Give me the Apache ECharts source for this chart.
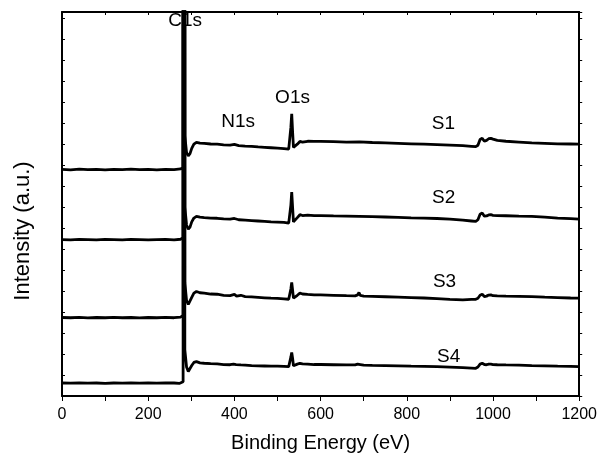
<!DOCTYPE html>
<html>
<head>
<meta charset="utf-8">
<script src="https://cdn.jsdelivr.net/npm/echarts@6/dist/echarts.min.js"></script>
<style>
  html, body { margin: 0; padding: 0; background: #fff; }
  #chart { width: 600px; height: 461px; }
</style>
</head>
<body>
<div id="chart"></div>
<script>
// XPS survey spectra of samples S1-S4, stacked with a vertical offset.
// Each point is [binding energy (eV), intensity (a.u., offset included)].
// The C1s maxima lie far above the visible range and are clipped by the frame.
const sampleNames = ['S1', 'S2', 'S3', 'S4'];

const s1 = [[0,10.80],[20,10.78],[40,10.81],[60,10.79],[80,10.80],[100,10.78],[120,10.80],[140,10.79],[160,10.81],[180,10.79],[200,10.80],[220,10.78],[240,10.80],[260,10.79],[275,10.82],[281,10.88],
  [282,200],[283.8,200],[285,12.4],[289,11.6],[293,11.45],[297,11.55],[301,11.8],[306,12.0],[312,12.09],[320,12.05],[330,12.04],[345,12.01],[360,12.00],[375,11.97],[390,11.96],[400,11.99],[410,11.93],[425,11.91],[440,11.90],[455,11.87],[470,11.85],[485,11.83],[500,11.81],[515,11.79],[526,11.77],[529,11.82],[531,12.8],[533,13.45],[535,12.6],[537,11.85],[540,11.82],[546,12.0],[552,12.13],[558,12.10],[570,12.14],[585,12.13],[600,12.13],[630,12.12],[660,12.10],[690,12.11],[720,12.08],[750,12.06],[780,12.04],[810,12.02],[840,12.00],[870,11.98],[900,11.96],[930,11.93],[950,11.90],[960,11.88],[965,11.95],[970,12.22],[975,12.28],[980,12.14],[985,12.18],[990,12.26],[995,12.28],[1000,12.24],[1010,12.18],[1030,12.14],[1060,12.10],[1090,12.06],[1120,12.04],[1150,12.02],[1180,12.01],[1200,12.00]];

const s2 = [[0,7.45],[20,7.44],[40,7.46],[60,7.45],[80,7.44],[100,7.46],[120,7.45],[140,7.44],[160,7.46],[180,7.45],[200,7.44],[220,7.45],[240,7.46],[260,7.44],[275,7.47],[281,7.54],
  [282,200],[283.8,200],[285,9.0],[289,8.15],[293,7.95],[297,8.05],[301,8.3],[306,8.48],[312,8.56],[320,8.52],[330,8.50],[345,8.48],[360,8.47],[375,8.44],[390,8.43],[400,8.46],[410,8.40],[425,8.38],[440,8.36],[455,8.34],[470,8.32],[485,8.30],[500,8.29],[515,8.27],[526,8.24],[529,8.30],[531,9.1],[533,9.72],[535,9.0],[537,8.30],[540,8.28],[546,8.50],[552,8.64],[558,8.60],[570,8.62],[585,8.60],[600,8.60],[630,8.58],[660,8.57],[690,8.56],[720,8.55],[750,8.53],[780,8.51],[810,8.49],[840,8.48],[870,8.46],[900,8.43],[930,8.38],[950,8.34],[960,8.32],[965,8.40],[970,8.66],[975,8.72],[980,8.57],[985,8.58],[990,8.63],[995,8.64],[1000,8.61],[1010,8.60],[1030,8.59],[1060,8.57],[1090,8.56],[1120,8.52],[1150,8.48],[1180,8.45],[1200,8.43]];

const s3 = [[0,3.74],[20,3.73],[40,3.75],[60,3.72],[80,3.74],[100,3.73],[120,3.75],[140,3.73],[160,3.74],[180,3.72],[200,3.74],[220,3.73],[240,3.75],[260,3.73],[275,3.76],[281,3.84],
  [282,200],[283.8,200],[285,5.4],[289,4.55],[293,4.36],[297,4.45],[301,4.7],[306,4.9],[312,4.98],[320,4.92],[330,4.90],[345,4.86],[360,4.85],[375,4.80],[390,4.78],[400,4.84],[405,4.76],[415,4.80],[425,4.74],[440,4.72],[455,4.70],[470,4.68],[485,4.66],[500,4.65],[515,4.63],[526,4.61],[529,4.66],[531,5.1],[533,5.41],[535,5.05],[537,4.66],[540,4.65],[546,4.80],[552,4.90],[558,4.86],[570,4.84],[585,4.82],[600,4.82],[630,4.80],[660,4.78],[680,4.77],[686,4.82],[689,4.93],[692,4.80],[700,4.76],[720,4.75],[750,4.73],[780,4.71],[810,4.69],[840,4.67],[870,4.64],[900,4.60],[930,4.58],[950,4.60],[960,4.61],[965,4.66],[970,4.80],[975,4.85],[980,4.74],[985,4.76],[990,4.81],[995,4.82],[1000,4.78],[1010,4.77],[1030,4.76],[1060,4.75],[1090,4.74],[1120,4.71],[1150,4.69],[1180,4.67],[1200,4.66]];

const s4 = [[0,0.62],[20,0.61],[40,0.63],[60,0.61],[80,0.62],[100,0.60],[120,0.62],[140,0.61],[160,0.63],[180,0.61],[200,0.62],[220,0.61],[240,0.63],[260,0.62],[272,0.60],[276,0.64],[281,0.68],
  [282,200],[283.8,200],[285,2.2],[289,1.38],[293,1.17],[297,1.25],[301,1.45],[306,1.6],[312,1.64],[320,1.58],[330,1.56],[345,1.54],[360,1.53],[375,1.50],[390,1.49],[398,1.52],[401,1.60],[404,1.50],[415,1.48],[425,1.47],[440,1.45],[455,1.44],[470,1.43],[485,1.42],[500,1.42],[515,1.41],[526,1.40],[529,1.44],[531,1.85],[533,2.07],[535,1.80],[537,1.44],[540,1.43],[546,1.52],[552,1.56],[558,1.53],[570,1.52],[585,1.50],[600,1.50],[630,1.49],[660,1.48],[680,1.48],[686,1.52],[689,1.59],[692,1.50],[700,1.47],[720,1.46],[750,1.45],[780,1.44],[810,1.42],[840,1.41],[870,1.40],[900,1.38],[930,1.35],[950,1.33],[960,1.32],[965,1.38],[970,1.52],[975,1.56],[980,1.50],[985,1.49],[990,1.52],[995,1.52],[1000,1.50],[1010,1.49],[1030,1.48],[1060,1.47],[1090,1.45],[1120,1.44],[1150,1.42],[1180,1.41],[1200,1.40]];

// Peak / sample annotations and the [eV, intensity] point each is centred on
const annotationTexts = ['C1s', 'N1s', 'O1s', 'S1', 'S2', 'S3', 'S4'];
const annotationAnchors = [[285.5,17.86],[408.8,13.05],[534.9,14.2],[884.8,12.99],[885.5,9.47],[887.5,5.43],[897,1.88]];

const FONT = '"Liberation Sans", Arial, Helvetica, sans-serif';
const INK = '#000';

const spectra = [s1, s2, s3, s4];
const lineSeries = spectra.map((d, i) => ({
  name: sampleNames[i],
  type: 'line',
  data: d,
  showSymbol: false,
  symbol: 'none',
  clip: true,
  z: 3,
  lineStyle: { color: INK, width: 2.8 },
  emphasis: { disabled: true }
}));

const labelSeries = {
  type: 'scatter',
  z: 1,
  symbolSize: 1,
  itemStyle: { color: 'rgba(0,0,0,0)' },
  silent: true,
  clip: false,
  data: annotationAnchors.map((p, i) => ({ value: p, name: annotationTexts[i] })),
  label: {
    show: true,
    position: 'inside',
    formatter: '{b}',
    color: INK,
    opacity: 1,
    textBorderWidth: 0,
    textBorderColor: 'transparent',
    fontFamily: FONT,
    fontSize: 19
  },
  emphasis: { disabled: true }
};

const plainNumber = (v) => String(v);

const chart = echarts.init(document.getElementById('chart'), null, { renderer: 'canvas' });
chart.setOption({
  animation: false,
  backgroundColor: '#fff',
  grid: { left: 62, right: 19, top: 12, bottom: 65, containLabel: false },
  xAxis: [
    {
      type: 'value', position: 'bottom', min: 0, max: 1200, interval: 200,
      name: 'Binding Energy (eV)', nameLocation: 'middle', nameGap: 37,
      nameTextStyle: { color: INK, fontFamily: FONT, fontSize: 20 },
      axisLine: { show: true, onZero: false, lineStyle: { color: INK, width: 2 } },
      axisTick: { show: true, inside: false, length: 5, lineStyle: { color: INK, width: 1 } },
      minorTick: { show: true, splitNumber: 2, length: 5, lineStyle: { color: INK, width: 1 } },
      axisLabel: { color: INK, fontFamily: FONT, fontSize: 16, margin: 11, showMinLabel: true, showMaxLabel: true, formatter: plainNumber },
      splitLine: { show: false }, minorSplitLine: { show: false }
    },
    {
      type: 'value', position: 'top', min: 0, max: 1200, interval: 100,
      axisLine: { show: true, onZero: false, lineStyle: { color: INK, width: 2 } },
      axisTick: { show: true, inside: true, length: 3, lineStyle: { color: INK, width: 1 } },
      axisLabel: { show: false },
      splitLine: { show: false }
    }
  ],
  yAxis: [
    {
      type: 'value', position: 'left', min: 0, max: 18.3, interval: 1,
      name: 'Intensity (a.u.)', nameLocation: 'middle', nameGap: 28,
      nameTextStyle: { color: INK, fontFamily: FONT, fontSize: 22, padding: [0, 54, 0, 0] },
      axisLine: { show: true, onZero: false, lineStyle: { color: INK, width: 2 } },
      axisTick: { show: true, inside: true, length: 3, lineStyle: { color: INK, width: 1 } },
      axisLabel: { show: false },
      splitLine: { show: false }
    },
    {
      type: 'value', position: 'right', min: 0, max: 18.3, interval: 1,
      axisLine: { show: true, onZero: false, lineStyle: { color: INK, width: 2 } },
      axisTick: { show: true, inside: false, length: 3, lineStyle: { color: INK, width: 1 } },
      axisLabel: { show: false },
      splitLine: { show: false }
    }
  ],
  series: [labelSeries].concat(lineSeries)
});
</script>
</body>
</html>
